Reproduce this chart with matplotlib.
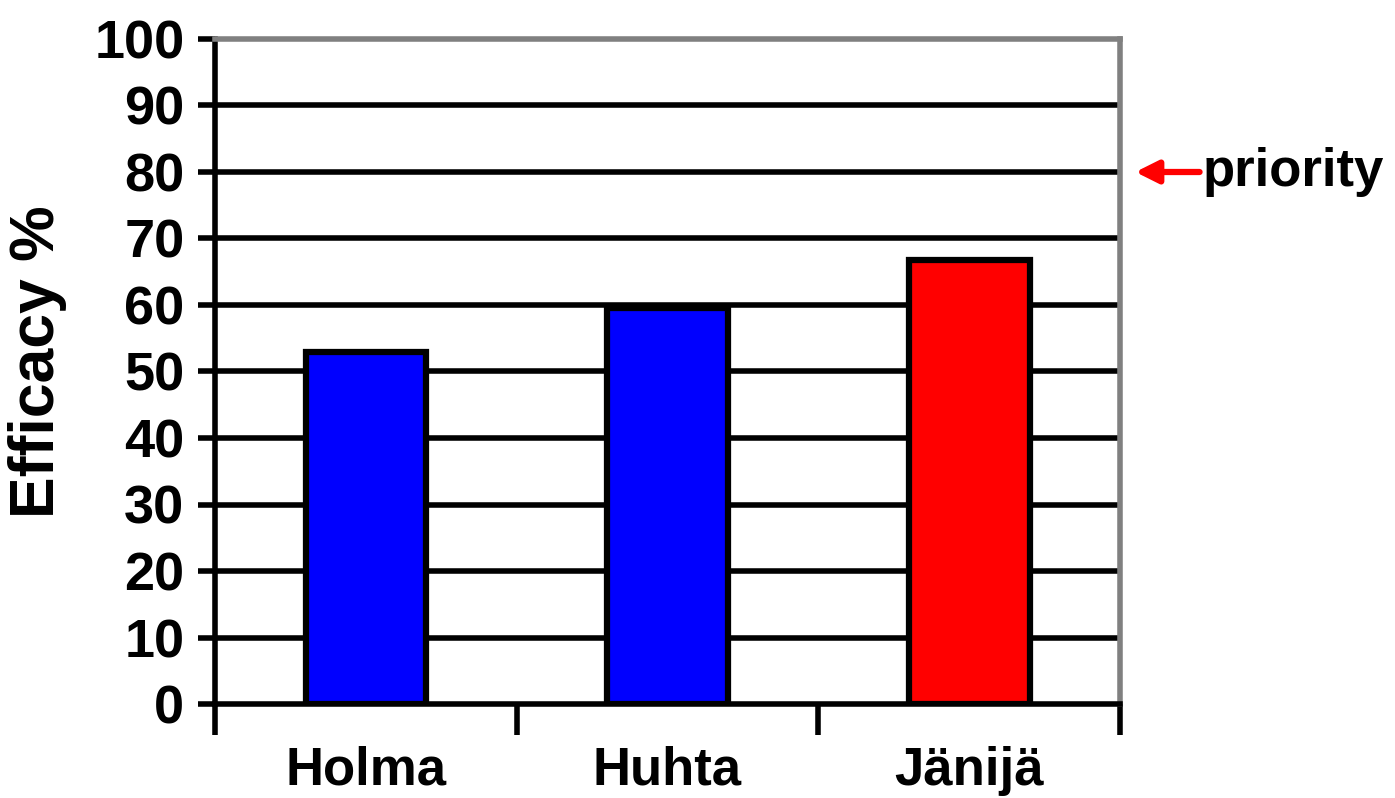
import matplotlib.pyplot as plt

plt.rcParams['font.family'] = ['Liberation Sans', 'DejaVu Sans']
plt.rcParams['font.weight'] = 'bold'

sites = ['Holma', 'Huhta', 'Jänijä']
efficacy = [53, 59.5, 66.7]
colors = ['#0000ff', '#0000ff', '#ff0000']
yticks = [0, 10, 20, 30, 40, 50, 60, 70, 80, 90, 100]
priority_level = 80

fig = plt.figure(figsize=(13.95, 7.98), dpi=100)
ax = fig.add_axes([215 / 1395, 1 - 704 / 798, (1120 - 215) / 1395, (704 - 39) / 798])

x = list(range(len(sites)))
ax.set_axisbelow(True)
for t in yticks[1:-1]:
    ax.axhline(t, color='black', lw=4, zorder=0)
ax.bar(x, efficacy, width=0.4, color=colors, edgecolor='black', linewidth=4.5, zorder=2)

ax.set_xlim(-0.5, len(sites) - 0.5)
ax.set_ylim(0, 100)
ax.set_yticks(yticks)
ax.set_yticklabels([str(t) for t in yticks], fontsize=39, fontweight='bold')
ax.tick_params(axis='y', length=12, width=4, pad=10)

ax.set_xticks(x)
ax.set_xticklabels(sites, fontsize=38, fontweight='bold')
ax.tick_params(axis='x', which='major', length=0, pad=30)
ax.set_xticks([i - 0.5 for i in range(len(sites) + 1)], minor=True)
ax.tick_params(axis='x', which='minor', length=22, width=4, direction='out')

ax.spines['left'].set_linewidth(4)
ax.spines['bottom'].set_linewidth(4)
ax.spines['top'].set_color('#808080')
ax.spines['top'].set_linewidth(4)
ax.spines['right'].set_color('#808080')
ax.spines['right'].set_linewidth(4)

fig.text(38 / 1395, 1 - 362 / 798, 'Efficacy %', fontsize=45, fontweight='bold',
         rotation=90, ha='center', va='center')

ax.annotate('priority', xy=(1.017, priority_level), xycoords=('axes fraction', 'data'),
            xytext=(1.091, priority_level), textcoords=('axes fraction', 'data'),
            fontsize=38, fontweight='bold', va='center', ha='left',
            arrowprops=dict(arrowstyle='-|>', color='#ff0000', lw=4.5, mutation_scale=34,
                            shrinkA=0, shrinkB=0), annotation_clip=False)

fig.savefig('out.png', dpi=100)
